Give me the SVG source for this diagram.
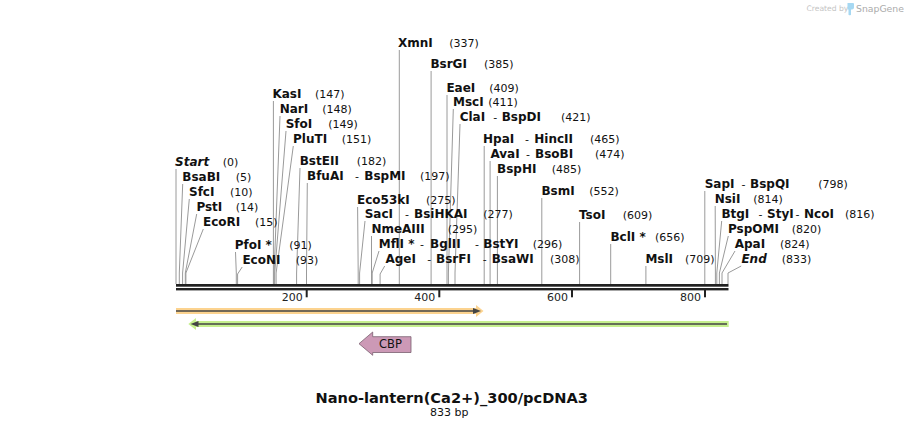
<svg xmlns="http://www.w3.org/2000/svg" width="904" height="429" viewBox="0 0 904 429">
<style>
text{font-family:"DejaVu Sans",Verdana,sans-serif;fill:#111}
.n{font-size:12px;font-weight:bold}
.i{font-size:12px;font-weight:bold;font-style:italic}
.p{font-size:11px}
.h{font-size:11px}
.ln{fill:none;stroke:#9a9a9a;stroke-width:1}
.tk{font-size:11px;text-anchor:end;fill:#222}
</style>
<rect width="904" height="429" fill="#fff"/>
<g id="logo">
<text x="806.5" y="11" style="font-size:7.6px;fill:#c4c4c4">Created by</text>
<path d="M847.5,3 h5.5 q1,0 1,1 v3.5 q0,2 -2,2 h-1 v5 q0,0.8 -0.8,0.8 h-0.9 q-0.8,0 -0.8,-0.8 v-5 h-1 z" fill="#a6d8f2"/>
<text x="856" y="12" style="font-size:9.3px;fill:#ababab">SnapGene</text>
</g>
<g id="connectors">
<polyline class="ln" points="176,169 176,284"/>
<polyline class="ln" points="182.7,184 179.3,273 179.3,284"/>
<polyline class="ln" points="189.3,199 182.6,273 182.6,284"/>
<polyline class="ln" points="196.7,214 185.3,273 185.3,284"/>
<polyline class="ln" points="203.3,229 185.9,273 185.9,284"/>
<polyline class="ln" points="235.5,252 236.3,273 236.3,284"/>
<polyline class="ln" points="242.2,267 237.6,274 237.6,284"/>
<polyline class="ln" points="273.4,101 273.4,284"/>
<polyline class="ln" points="280,116 274.1,273 274.1,284"/>
<polyline class="ln" points="286,131 274.7,273 274.7,284"/>
<polyline class="ln" points="293.3,146 276.1,273 276.1,284"/>
<polyline class="ln" points="300,168 296.6,273 296.6,284"/>
<polyline class="ln" points="307.3,183 306.5,273 306.5,284"/>
<polyline class="ln" points="357.6,207 358.2,273 358.2,284"/>
<polyline class="ln" points="365,221 359.6,273 359.6,284"/>
<polyline class="ln" points="371.5,236 371.5,284"/>
<polyline class="ln" points="379,251 372.2,273 372.2,284"/>
<polyline class="ln" points="384.7,266 380.1,274 380.1,284"/>
<polyline class="ln" points="399.3,50 399.3,284"/>
<polyline class="ln" points="431.1,71 431.1,284"/>
<polyline class="ln" points="447,95 447,284"/>
<polyline class="ln" points="453.3,109 448.4,273 448.4,284"/>
<polyline class="ln" points="460,124 455,273 455,284"/>
<polyline class="ln" points="484.2,146 484.2,284"/>
<polyline class="ln" points="490.1,161 490.1,284"/>
<polyline class="ln" points="497.4,176 497.4,284"/>
<polyline class="ln" points="541.8,198 541.8,284"/>
<polyline class="ln" points="579.6,222 579.6,284"/>
<polyline class="ln" points="610.7,244 610.7,284"/>
<polyline class="ln" points="645.9,266 645.9,284"/>
<polyline class="ln" points="704.8,191 704.8,284"/>
<polyline class="ln" points="715.2,206 715.4,273 715.4,284"/>
<polyline class="ln" points="721.7,221 716.8,273 716.8,284"/>
<polyline class="ln" points="728.3,236 719.4,273 719.4,284"/>
<polyline class="ln" points="735,251 722,273 722,284"/>
<polyline class="ln" points="741.2,266 728,273 728,284"/>
</g>
<g id="axis">
<rect x="176" y="284" width="552.5" height="2.7" fill="#222"/>
<rect x="176" y="288" width="552.5" height="2.4" fill="#222"/>
<rect x="305.7" y="290" width="2" height="7.3" fill="#222"/>
<rect x="438.3" y="290" width="2" height="7.3" fill="#222"/>
<rect x="571" y="290" width="2" height="7.3" fill="#222"/>
<rect x="704" y="290" width="2" height="7.3" fill="#222"/>
<text class="tk" x="302.7" y="301">200</text>
<text class="tk" x="435.3" y="301">400</text>
<text class="tk" x="568" y="301">600</text>
<text class="tk" x="701" y="301">800</text>
</g>
<g id="e_start"><text class="i" x="175" y="166">Start</text><text class="p" x="222.7" y="166">(0)</text></g>
<g id="e_bsabi"><text class="n" x="182.3" y="181">BsaBI</text><text class="p" x="235.7" y="181">(5)</text></g>
<g id="e_sfci"><text class="n" x="189" y="196">SfcI</text><text class="p" x="230" y="196">(10)</text></g>
<g id="e_psti"><text class="n" x="196.4" y="211">PstI</text><text class="p" x="235.7" y="211">(14)</text></g>
<g id="e_ecori"><text class="n" x="203" y="226">EcoRI</text><text class="p" x="255" y="226">(15)</text></g>
<g id="e_pfoi"><text class="n" x="234.7" y="249.3">PfoI *</text><text class="p" x="289.3" y="249.3">(91)</text></g>
<g id="e_econi"><text class="n" x="242.4" y="264.3">EcoNI</text><text class="p" x="295.7" y="264.3">(93)</text></g>
<g id="e_kasi"><text class="n" x="272.4" y="98.3">KasI</text><text class="p" x="315" y="98.3">(147)</text></g>
<g id="e_nari"><text class="n" x="279.7" y="113.3">NarI</text><text class="p" x="322.3" y="113.3">(148)</text></g>
<g id="e_sfoi"><text class="n" x="285.7" y="128.3">SfoI</text><text class="p" x="328.3" y="128.3">(149)</text></g>
<g id="e_pluti"><text class="n" x="293" y="143.3">PluTI</text><text class="p" x="341.7" y="143.3">(151)</text></g>
<g id="e_bsteii"><text class="n" x="299.7" y="165">BstEII</text><text class="p" x="356.7" y="165">(182)</text></g>
<g id="e_bfuai"><text class="n" x="307" y="180">BfuAI</text><text class="h" x="355" y="180">-</text><text class="n" x="364.3" y="180">BspMI</text><text class="p" x="420" y="180">(197)</text></g>
<g id="e_eco53ki"><text class="n" x="357" y="204">Eco53kI</text><text class="p" x="426" y="204">(275)</text></g>
<g id="e_saci"><text class="n" x="364.7" y="218.3">SacI</text><text class="h" x="405" y="218.3">-</text><text class="n" x="414" y="218.3">BsiHKAI</text><text class="p" x="483.3" y="218.3">(277)</text></g>
<g id="e_nmeaiii"><text class="n" x="371.4" y="233.3">NmeAIII</text><text class="p" x="447.7" y="233.3">(295)</text></g>
<g id="e_mfli"><text class="n" x="378.7" y="248.3">MflI *</text><text class="h" x="420" y="248.3">-</text><text class="n" x="430" y="248.3">BglII</text><text class="h" x="475" y="248.3">-</text><text class="n" x="483.3" y="248.3">BstYI</text><text class="p" x="532.7" y="248.3">(296)</text></g>
<g id="e_agei"><text class="n" x="385.4" y="263.3">AgeI</text><text class="h" x="427.3" y="263.3">-</text><text class="n" x="436" y="263.3">BsrFI</text><text class="h" x="482.7" y="263.3">-</text><text class="n" x="491.7" y="263.3">BsaWI</text><text class="p" x="550" y="263.3">(308)</text></g>
<g id="e_xmni"><text class="n" x="398" y="46.7">XmnI</text><text class="p" x="449.3" y="46.7">(337)</text></g>
<g id="e_bsrgi"><text class="n" x="430.4" y="68.3">BsrGI</text><text class="p" x="484" y="68.3">(385)</text></g>
<g id="e_eaei"><text class="n" x="446.4" y="91.7">EaeI</text><text class="p" x="489.3" y="91.7">(409)</text></g>
<g id="e_msci"><text class="n" x="453" y="106">MscI</text><text class="p" x="488.3" y="106">(411)</text></g>
<g id="e_clai"><text class="n" x="459.7" y="120.7">ClaI</text><text class="h" x="493.3" y="120.7">-</text><text class="n" x="501.7" y="120.7">BspDI</text><text class="p" x="561" y="120.7">(421)</text></g>
<g id="e_hpai"><text class="n" x="483" y="143.3">HpaI</text><text class="h" x="525" y="143.3">-</text><text class="n" x="534.3" y="143.3">HincII</text><text class="p" x="590" y="143.3">(465)</text></g>
<g id="e_avai"><text class="n" x="490.4" y="158.3">AvaI</text><text class="h" x="526" y="158.3">-</text><text class="n" x="535" y="158.3">BsoBI</text><text class="p" x="595" y="158.3">(474)</text></g>
<g id="e_bsphi"><text class="n" x="497" y="173.3">BspHI</text><text class="p" x="551.7" y="173.3">(485)</text></g>
<g id="e_bsmi"><text class="n" x="541.4" y="195">BsmI</text><text class="p" x="589.3" y="195">(552)</text></g>
<g id="e_tsoi"><text class="n" x="579" y="219.3">TsoI</text><text class="p" x="622.7" y="219.3">(609)</text></g>
<g id="e_bcli"><text class="n" x="610.4" y="241">BclI *</text><text class="p" x="655" y="241">(656)</text></g>
<g id="e_msli"><text class="n" x="645.4" y="262.7">MslI</text><text class="p" x="685" y="262.7">(709)</text></g>
<g id="e_sapi"><text class="n" x="704.7" y="188.3">SapI</text><text class="h" x="741.5" y="188.3">-</text><text class="n" x="750" y="188.3">BspQI</text><text class="p" x="818.3" y="188.3">(798)</text></g>
<g id="e_nsii"><text class="n" x="714.7" y="203.3">NsiI</text><text class="p" x="753.3" y="203.3">(814)</text></g>
<g id="e_btgi"><text class="n" x="721.4" y="218.3">BtgI</text><text class="h" x="758.5" y="218.3">-</text><text class="n" x="767" y="218.3">StyI</text><text class="h" x="795.5" y="218.3">-</text><text class="n" x="804" y="218.3">NcoI</text><text class="p" x="845" y="218.3">(816)</text></g>
<g id="e_pspomi"><text class="n" x="728" y="233.3">PspOMI</text><text class="p" x="791.7" y="233.3">(820)</text></g>
<g id="e_apai"><text class="n" x="734.7" y="248.3">ApaI</text><text class="p" x="780" y="248.3">(824)</text></g>
<g id="e_end"><text class="i" x="741.4" y="263.3">End</text><text class="p" x="781.7" y="263.3">(833)</text></g>
<g id="f_orange">
<rect x="176" y="308" width="300.5" height="6" fill="#fcd38f"/>
<polygon points="476,305 483.5,311 476,317" fill="#fcd38f"/>
<line x1="176" y1="311" x2="476" y2="311" stroke="#444" stroke-width="1.6"/>
<polygon points="473,308 481,311 473,314" fill="#444"/>
</g>
<g id="f_green">
<rect x="196" y="321" width="532.7" height="6" fill="#c6f08e"/>
<polygon points="196,318 188.3,324 196,330" fill="#c6f08e"/>
<line x1="196" y1="324" x2="727" y2="324" stroke="#444" stroke-width="1.6"/>
<polygon points="198.5,321 190.5,324 198.5,327" fill="#444"/>
</g>
<g id="f_cbp">
<polygon points="359,343.7 372.7,332 372.7,336.7 411,336.7 411,352.5 372.7,352.5 372.7,355.3" fill="#cc99b6" stroke="#7a6070" stroke-width="0.8"/>
<text x="390.5" y="347.5" style="font-size:11.5px;text-anchor:middle">CBP</text>
</g>
<g id="title">
<text x="451.7" y="403" style="font-size:14.6px;font-weight:bold;text-anchor:middle">Nano-lantern(Ca2+)_300/pcDNA3</text>
<text x="449.2" y="416" style="font-size:11px;text-anchor:middle">833 bp</text>
</g>
</svg>
